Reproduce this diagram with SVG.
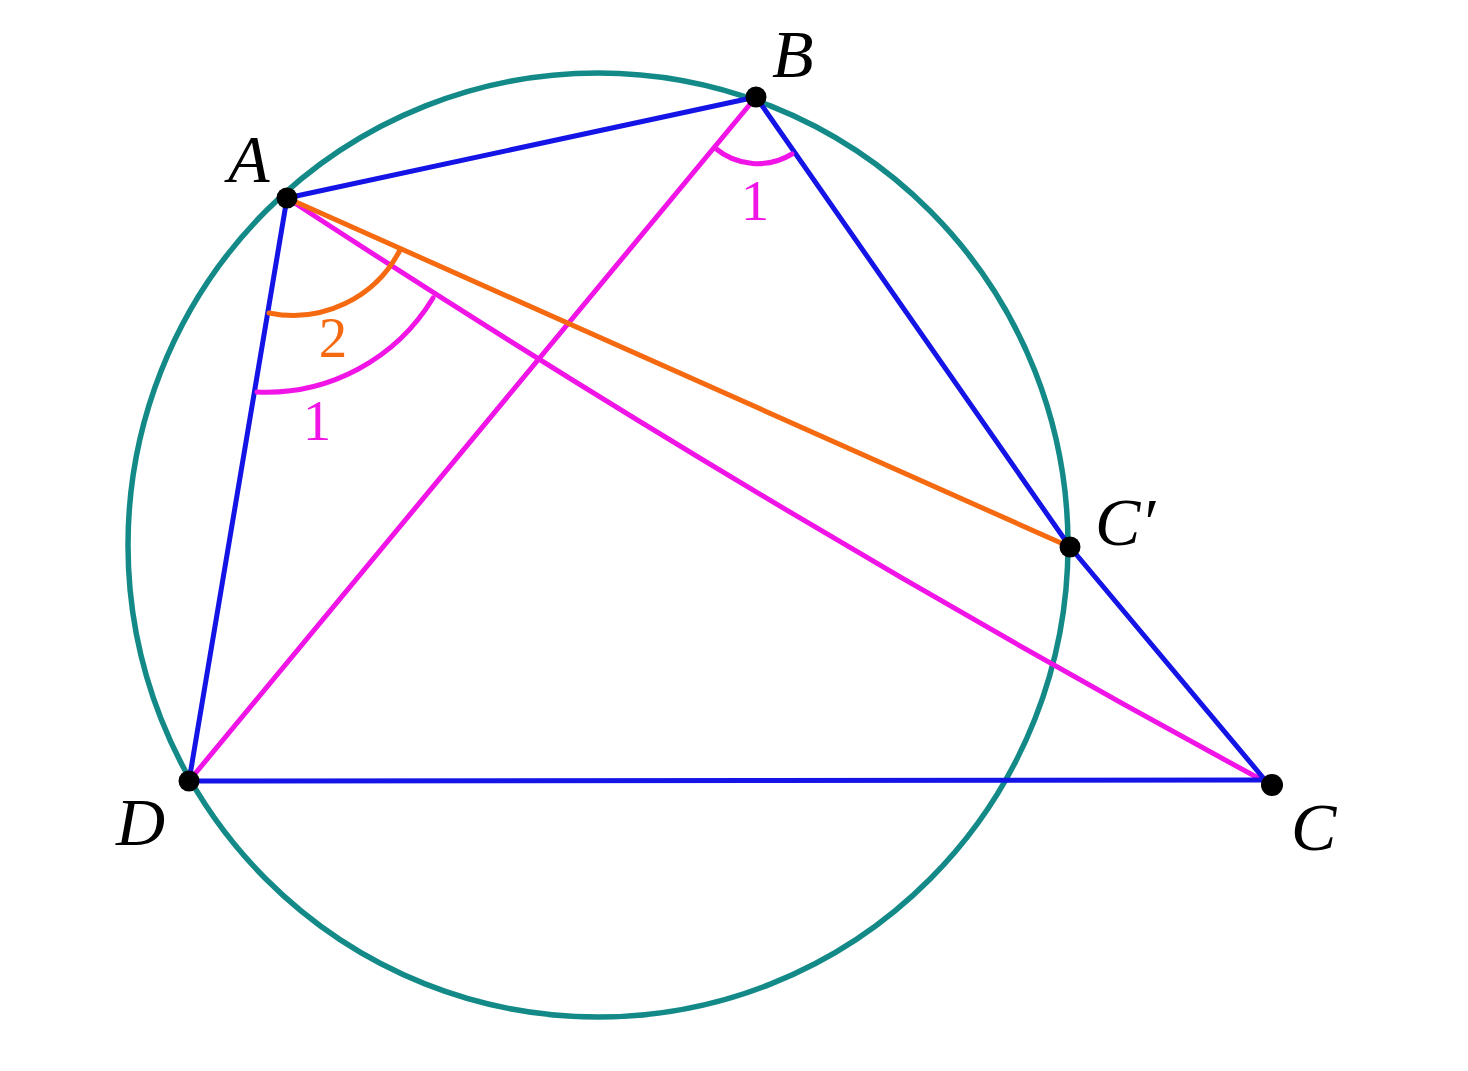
<svg xmlns="http://www.w3.org/2000/svg" width="1468" height="1071" viewBox="0 0 1468 1071">
<style>
.circ{fill:none;stroke:#138a88;stroke-width:5.5}
.blue{stroke:#1414e6;stroke-width:5;fill:none;stroke-linecap:round;stroke-linejoin:round}
.mag{stroke:#f014e6;stroke-width:5;fill:none;stroke-linecap:round}
.org{stroke:#f56a10;stroke-width:5;fill:none;stroke-linecap:round}
.dot{fill:#000}
.lbl{font-family:"Liberation Serif",serif;font-style:italic;font-size:68px;fill:#000}
.num{font-family:"Liberation Serif",serif;font-size:57px;text-anchor:middle}
</style>
<rect width="1468" height="1071" fill="#fff"/>
<g id="circle"><ellipse class="circ" cx="598" cy="545" rx="470" ry="472"/></g>
<g id="connectors">
<line class="mag" x1="756" y1="97" x2="189" y2="781"/>
<path class="mag" d="M287 198 Q770 514 1262 780"/>
<line class="org" x1="287" y1="198" x2="1070" y2="547"/>
<line class="blue" x1="287" y1="198" x2="756" y2="97"/>
<polyline class="blue" points="756,97 1070,547 1265,780"/>
<line class="blue" x1="287" y1="198" x2="189" y2="781"/>
<line class="blue" x1="189" y1="781" x2="1265" y2="780"/>
<path class="org" d="M269 313 A120 120 0 0 0 400 250"/>
<path class="mag" d="M257 392 A195 195 0 0 0 433 298"/>
<path class="mag" d="M715 148 A66 66 0 0 0 792 154"/>
</g>
<g id="A"><circle class="dot" cx="287" cy="198" r="10.5"/><text class="lbl" x="228" y="182">A</text></g>
<g id="B"><circle class="dot" cx="756" cy="97" r="10.5"/><text class="lbl" x="772" y="77">B</text></g>
<g id="Cp"><circle class="dot" cx="1070" cy="547" r="10.5"/><text class="lbl" x="1095" y="545">C′</text></g>
<g id="D"><circle class="dot" cx="189" cy="781" r="10.5"/><text class="lbl" x="116" y="845">D</text></g>
<g id="C"><circle class="dot" cx="1272" cy="785" r="11"/><text class="lbl" x="1291" y="850">C</text></g>
<g id="labels">
<text class="num" x="333" y="357" fill="#f56a10">2</text>
<text class="num" x="317" y="440" fill="#f014e6">1</text>
<text class="num" x="755" y="220" fill="#f014e6">1</text>
</g>
</svg>
